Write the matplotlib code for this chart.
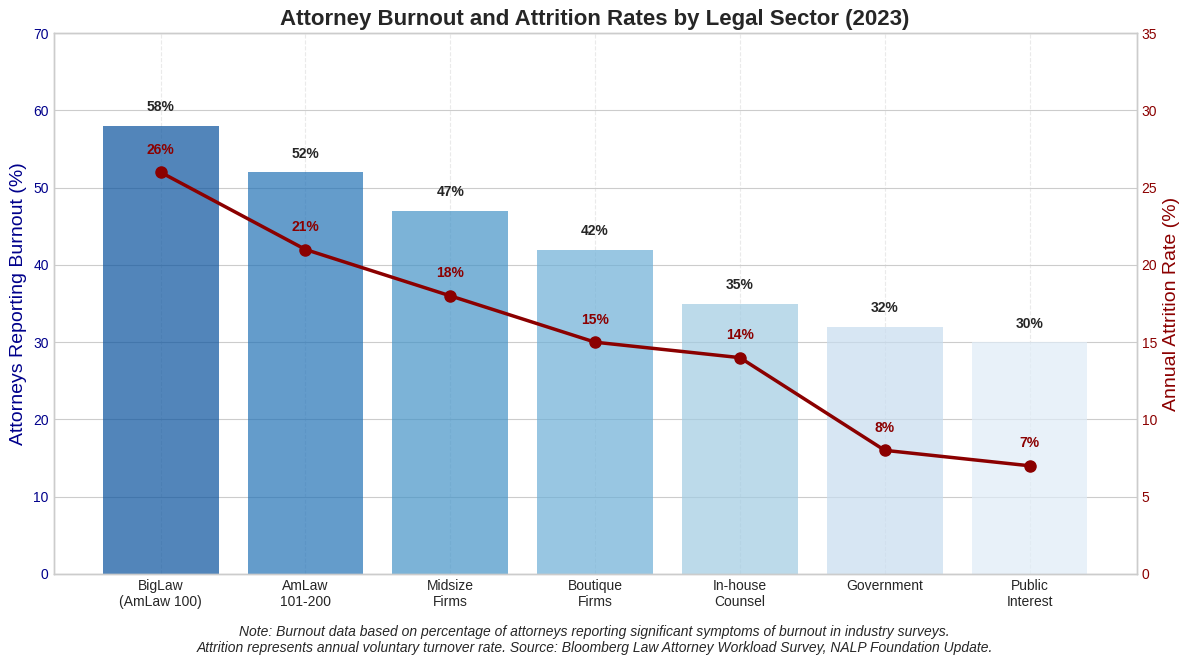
import numpy as np
import matplotlib.pyplot as plt

plt.style.use("seaborn-v0_8-whitegrid")
plt.rcParams["font.family"] = ["Liberation Sans", "DejaVu Sans"]

# Data
sectors = [
    "BigLaw\n(AmLaw 100)",
    "AmLaw\n101-200",
    "Midsize\nFirms",
    "Boutique\nFirms",
    "In-house\nCounsel",
    "Government",
    "Public\nInterest",
]
burnout = [58, 52, 47, 42, 35, 32, 30]
attrition = [26, 21, 18, 15, 14, 8, 7]

fig, ax1 = plt.subplots(figsize=(11.89, 6.65), dpi=100)

x = np.arange(len(sectors))
colors = plt.cm.Blues(np.linspace(0.87, 0.12, len(sectors)))
bars = ax1.bar(x, burnout, width=0.8, color=colors, alpha=0.7)

for b, v in zip(bars, burnout):
    ax1.text(b.get_x() + b.get_width() / 2, v + 1.5, f"{v}%",
             ha="center", va="bottom", fontsize=10, fontweight="bold",
             color="#262626")

ax1.set_ylim(0, 70)
ax1.set_ylabel("Attorneys Reporting Burnout (%)", fontsize=14, color="darkblue")
ax1.tick_params(axis="y", labelcolor="darkblue")
ax1.set_xticks(x)
ax1.set_xticklabels(sectors, fontsize=10)
ax1.grid(axis="x", linestyle="--", alpha=0.4)

ax2 = ax1.twinx()
ax2.plot(x, attrition, color="darkred", linewidth=2.5, marker="o", markersize=8)
for xi, v in zip(x, attrition):
    ax2.text(xi, v + 1, f"{v}%", ha="center", va="bottom", fontsize=10,
             fontweight="bold", color="darkred")
ax2.set_ylim(0, 35)
ax2.set_ylabel("Annual Attrition Rate (%)", fontsize=14, color="darkred")
ax2.tick_params(axis="y", labelcolor="darkred")
ax2.grid(False)

ax1.set_title("Attorney Burnout and Attrition Rates by Legal Sector (2023)",
              fontsize=16, fontweight="bold", color="#262626", pad=6)

fig.text(0.5, 0.015,
         "Note: Burnout data based on percentage of attorneys reporting significant symptoms of burnout in industry surveys.\n"
         "Attrition represents annual voluntary turnover rate. Source: Bloomberg Law Attorney Workload Survey, NALP Foundation Update.",
         ha="center", va="bottom", fontsize=10, style="italic", color="#262626")

fig.subplots_adjust(left=0.045, right=0.956, top=0.950, bottom=0.137)
fig.savefig("out.png", dpi=100)
